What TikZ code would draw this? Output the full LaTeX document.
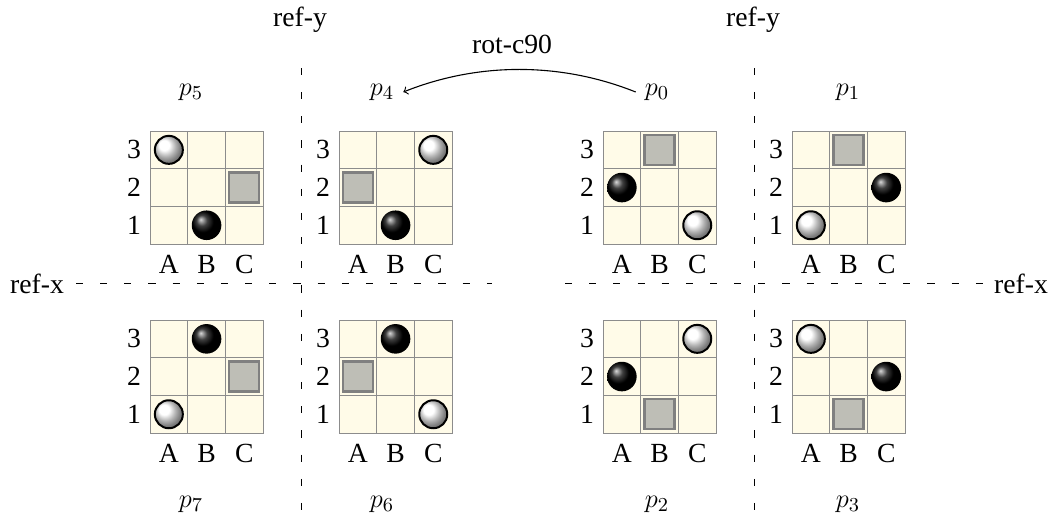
\documentclass[tikz,border=0pt]{standalone}
\usepackage{fontspec}
\setmainfont{Liberation Serif}
\newcommand\cellsz{37.7}
\newcommand\wst[2]{\shadedraw[wstone] ({(#1-0.5)*\cellsz},{(3.5-#2)*\cellsz}) circle[radius=14];}
\newcommand\bst[2]{\shade[bstone] ({(#1-0.5)*\cellsz},{(3.5-#2)*\cellsz}) circle[radius=14.8];}
\newcommand\blk[2]{\draw[block] ({(#1-0.5)*\cellsz-15},{(3.5-#2)*\cellsz-15}) rectangle ++(30,30);}
\newcommand\drawboard[4]{%
  \begin{scope}[shift={(#2,#3)}]
    \foreach \i in {0,1,2}{\foreach \j in {0,1,2}{
      \draw[cell] ({\i*\cellsz},{\j*\cellsz}) rectangle ++(\cellsz,\cellsz);}}
    \node[txt] (#1r3) at (-16,{0.5*\cellsz}) {3};
    \node[txt] (#1r2) at (-16,{1.5*\cellsz}) {2};
    \node[txt] (#1r1) at (-16,{2.5*\cellsz}) {1};
    \node[txt] (#1cA) at ({0.5*\cellsz},133) {A};
    \node[txt] (#1cB) at ({1.5*\cellsz},133) {B};
    \node[txt] (#1cC) at ({2.5*\cellsz},133) {C};
    #4
  \end{scope}}
\begin{document}
\begin{tikzpicture}[x=0.4552pt,y=-0.4552pt,
  font=\fontsize{12.6}{15}\selectfont,
  txt/.style={inner sep=0pt, anchor=center},
  plbl/.style={inner sep=4pt},
  cell/.style={draw=black!45, fill={rgb,255:red,255;green,251;blue,232}, line width=0.4pt},
  wstone/.style={ball color=white, draw=black, line width=0.9pt},
  bstone/.style={ball color=black},
  block/.style={draw=black!50, fill={rgb,255:red,190;green,190;blue,182}, line width=1pt},
  refline/.style={dash pattern=on 3.2pt off 7.8pt, line width=0.4pt},
]
\useasboundingbox (0,0) rectangle (1049,523);

% boards, top row
\drawboard{b5}{150}{131}{\wst{1}{3}\blk{3}{2}\bst{2}{1}}
\drawboard{b4}{339}{131}{\blk{1}{2}\wst{3}{3}\bst{2}{1}}
\drawboard{b0}{603}{131}{\blk{2}{3}\bst{1}{2}\wst{3}{1}}
\drawboard{b1}{792}{131}{\blk{2}{3}\bst{3}{2}\wst{1}{1}}
% boards, bottom row
\drawboard{b7}{150}{320}{\bst{2}{3}\blk{3}{2}\wst{1}{1}}
\drawboard{b6}{339}{320}{\bst{2}{3}\blk{1}{2}\wst{3}{1}}
\drawboard{b2}{603}{320}{\wst{3}{3}\bst{1}{2}\blk{2}{1}}
\drawboard{b3}{792}{320}{\wst{1}{3}\bst{3}{2}\blk{2}{1}}

% position labels
\node[plbl] (p5) at (191,92) {$p_5$};
\node[plbl] (p4) at (382,92) {$p_4$};
\node[plbl] (p0) at (657,92) {$p_0$};
\node[plbl] (p1) at (848,92) {$p_1$};
\node[plbl] (p7) at (191,504) {$p_7$};
\node[plbl] (p6) at (382,504) {$p_6$};
\node[plbl] (p2) at (657,504) {$p_2$};
\node[plbl] (p3) at (848,504) {$p_3$};

% reflection axes
\node[txt] (refyL) at (300,20) {ref-y};
\node[txt] (refyR) at (753,20) {ref-y};
\node[txt] (refxL) at (37,284) {ref-x};
\node[txt] (refxR) at (1021,284) {ref-x};
\coordinate (vL1) at (301,68);  \coordinate (vL2) at (301,512);
\coordinate (vR1) at (754,68);  \coordinate (vR2) at (754,512);
\coordinate (hL1) at (76,283);  \coordinate (hL2) at (492,283);
\coordinate (hR1) at (565,283); \coordinate (hR2) at (986,283);
\draw[refline] (vL1) -- (vL2);
\draw[refline] (vR1) -- (vR2);
\draw[refline] (hL1) -- (hL2);
\draw[refline] (hR1) -- (hR2);

% rotation arrow
\node[txt] (rot) at (512,44) {rot-c90};
\draw[->, line width=0.5pt] (p0.west) .. controls +(-75,-30) and +(75,-30) .. (p4.east);
\end{tikzpicture}
\end{document}
